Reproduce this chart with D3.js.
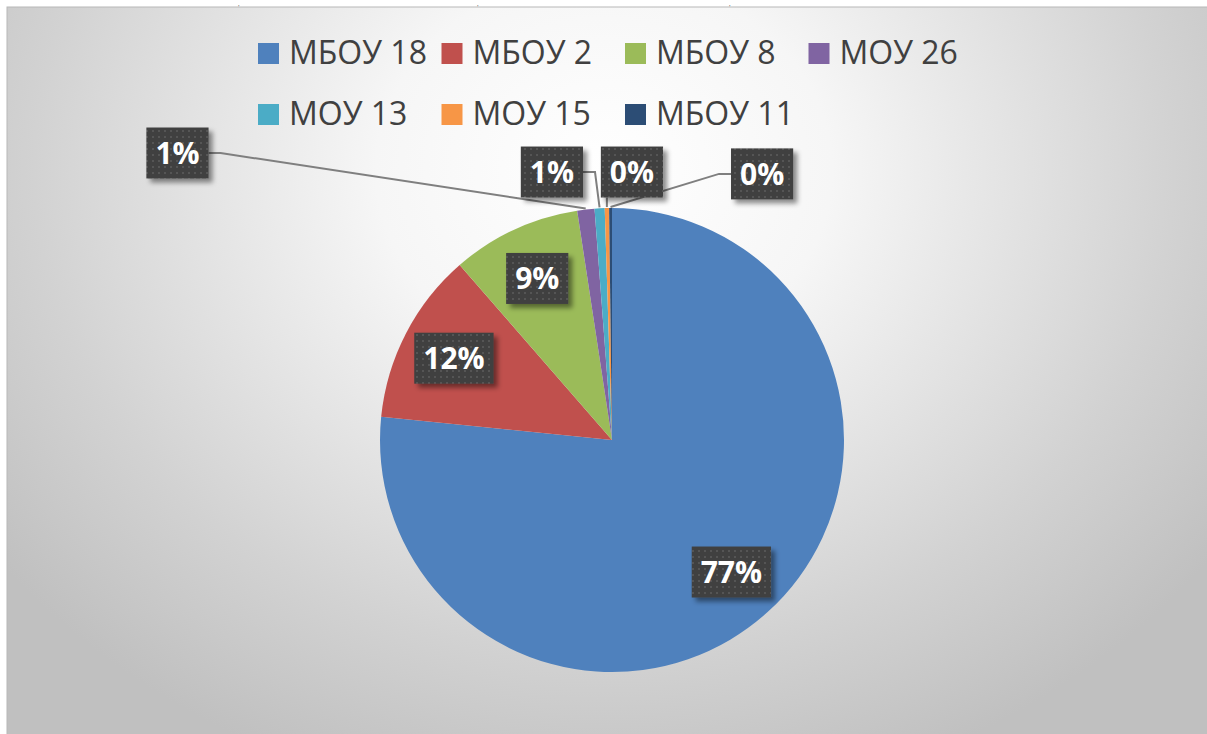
<!DOCTYPE html>
<html>
<head>
<meta charset="utf-8">
<script src="https://cdn.jsdelivr.net/npm/d3@7"></script>
<style>
  body { margin: 0; background: #ffffff; }
  svg { display: block; }
</style>
</head>
<body>
<div id="chart"></div>
<script>
// chart data
const schools = ["МБОУ 18", "МБОУ 2", "МБОУ 8", "МОУ 26", "МОУ 13", "МОУ 15", "МБОУ 11"];
const shares = [76.6, 12.0, 9.0, 1.2, 0.7, 0.3, 0.2];
const colors = ["#4f81bd", "#c0504d", "#9bbb59", "#8064a2", "#4bacc6", "#f79646", "#2c4d75"];
// small slices get their label outside, placed relative to the pie (in radius units)
const outsideLabels = [null, null, null, [-1.873, -1.237], [-0.259, -1.155], [0.086, -1.155], [0.647, -1.147]];

const width = 1207;
const height = 734;
const cx = 612, cy = 440, R = 232;

const svg = d3.select("#chart")
  .append("svg")
  .attr("width", width)
  .attr("height", height);

const defs = svg.append("defs");

// background gradient of the chart area
const bg = defs.append("radialGradient")
  .attr("id", "bg")
  .attr("gradientUnits", "userSpaceOnUse")
  .attr("cx", 604).attr("cy", 170).attr("r", 760)
  .attr("gradientTransform", "translate(604,170) scale(1,0.85) translate(-604,-170)");
bg.append("stop").attr("offset", "0").attr("stop-color", "#ffffff");
bg.append("stop").attr("offset", "0.3").attr("stop-color", "#f6f6f6");
bg.append("stop").attr("offset", "0.75").attr("stop-color", "#d2d2d2");
bg.append("stop").attr("offset", "1").attr("stop-color", "#c0c0c0");

// dotted pattern for the data label boxes
const pat = defs.append("pattern")
  .attr("id", "dots")
  .attr("width", 6).attr("height", 6)
  .attr("patternUnits", "userSpaceOnUse");
pat.append("rect").attr("width", 6).attr("height", 6).attr("fill", "#404040");
pat.append("rect").attr("x", 2).attr("y", 2).attr("width", 2).attr("height", 2).attr("fill", "#555555");

const shadow = defs.append("filter").attr("id", "shadow")
  .attr("x", "-20%").attr("y", "-20%").attr("width", "150%").attr("height", "150%");
shadow.append("feDropShadow")
  .attr("dx", 4).attr("dy", 4).attr("stdDeviation", 2.5)
  .attr("flood-color", "#000").attr("flood-opacity", 0.45);

// little comma marks above the chart frame
svg.selectAll(".frag")
  .data([238, 477, 729])
  .enter()
  .append("text")
  .attr("x", d => d)
  .attr("y", 6)
  .attr("font-family", "Liberation Serif")
  .attr("font-style", "italic")
  .attr("font-size", 6)
  .attr("fill", "#333")
  .text(",");

// chart frame
svg.append("rect")
  .attr("x", 7).attr("y", 7)
  .attr("width", width)
  .attr("height", height)
  .attr("fill", "url(#bg)")
  .attr("stroke", "#b8b8b8")
  .attr("stroke-width", 1);

/* Legend */
const legend = svg.append("g").attr("font-family", "'Open Sans', sans-serif");
const colX = d3.scaleLinear().domain([0, 1]).range([258, 441.5]);
const rowY = d3.scaleLinear().domain([0, 1]).range([64, 125]);

const items = legend.selectAll(".item")
  .data(schools)
  .enter()
  .append("g")
  .attr("transform", (d, i) => `translate(${colX(i % 4)},${rowY(Math.floor(i / 4))})`);

items.append("rect")
  .attr("x", 0).attr("y", -21)
  .attr("width", 21).attr("height", 21)
  .attr("fill", (d, i) => colors[i]);

items.append("text")
  .attr("x", 31)
  .attr("y", 0)
  .attr("font-size", 32)
  .attr("fill", "#404040")
  .text(d => d);

/* Pie */
const pie = d3.pie().sort(null).value(d => d);
const arcs = pie(shares);
const arc = d3.arc().innerRadius(0).outerRadius(R);
const labelArc = d3.arc().innerRadius(178).outerRadius(178);

const g = svg.append("g").attr("transform", `translate(${cx},${cy})`);

g.selectAll(".slice")
  .data(arcs)
  .enter()
  .append("path")
  .attr("class", "slice")
  .attr("d", arc)
  .attr("fill", (d, i) => colors[i]);

/* Data labels */
const fmt = d3.format(".0f");
const total = d3.sum(shares);

const labels = arcs.map((d, i) => {
  let pos;
  if (outsideLabels[i]) pos = [outsideLabels[i][0] * R, outsideLabels[i][1] * R];
  else pos = labelArc.centroid(d);
  return { d: d, i: i, x: pos[0], y: pos[1], text: fmt(d.value / total * 100) + "%" };
});

const lines = g.append("g");
const boxes = g.append("g");

labels.forEach(l => {
  const grp = boxes.append("g");
  const t = grp.append("text")
    .attr("x", l.x)
    .attr("y", l.y)
    .attr("dy", "0.36em")
    .attr("text-anchor", "middle")
    .attr("font-family", "'Open Sans', sans-serif")
    .attr("font-weight", "bold")
    .attr("font-size", 30)
    .attr("fill", "#ffffff")
    .text(l.text);
  const w = t.node().getComputedTextLength() + 18;
  const h = 51;
  grp.insert("rect", "text")
    .attr("x", l.x - w / 2)
    .attr("y", l.y - h / 2)
    .attr("width", w)
    .attr("height", h)
    .attr("fill", "url(#dots)")
    .attr("filter", "url(#shadow)");

  // leader line for the outside labels
  if (outsideLabels[l.i]) {
    const mid = (l.d.startAngle + l.d.endAngle) / 2;
    const px = Math.sin(mid) * (R + 1);
    const py = -Math.cos(mid) * (R + 1);
    let pts;
    if (px > l.x - w / 2 && px < l.x + w / 2) {
      pts = [[px, l.y + h / 2], [px, py]];
    } else if (px > l.x) {
      pts = [[l.x + w / 2, l.y], [l.x + w / 2 + 12, l.y], [px, py]];
    } else {
      pts = [[l.x - w / 2, l.y], [l.x - w / 2 - 12, l.y], [px, py]];
    }
    lines.append("path")
      .attr("d", d3.line()(pts))
      .attr("fill", "none")
      .attr("stroke", "#7f7f7f")
      .attr("stroke-width", 2);
  }
});
</script>
</body>
</html>
